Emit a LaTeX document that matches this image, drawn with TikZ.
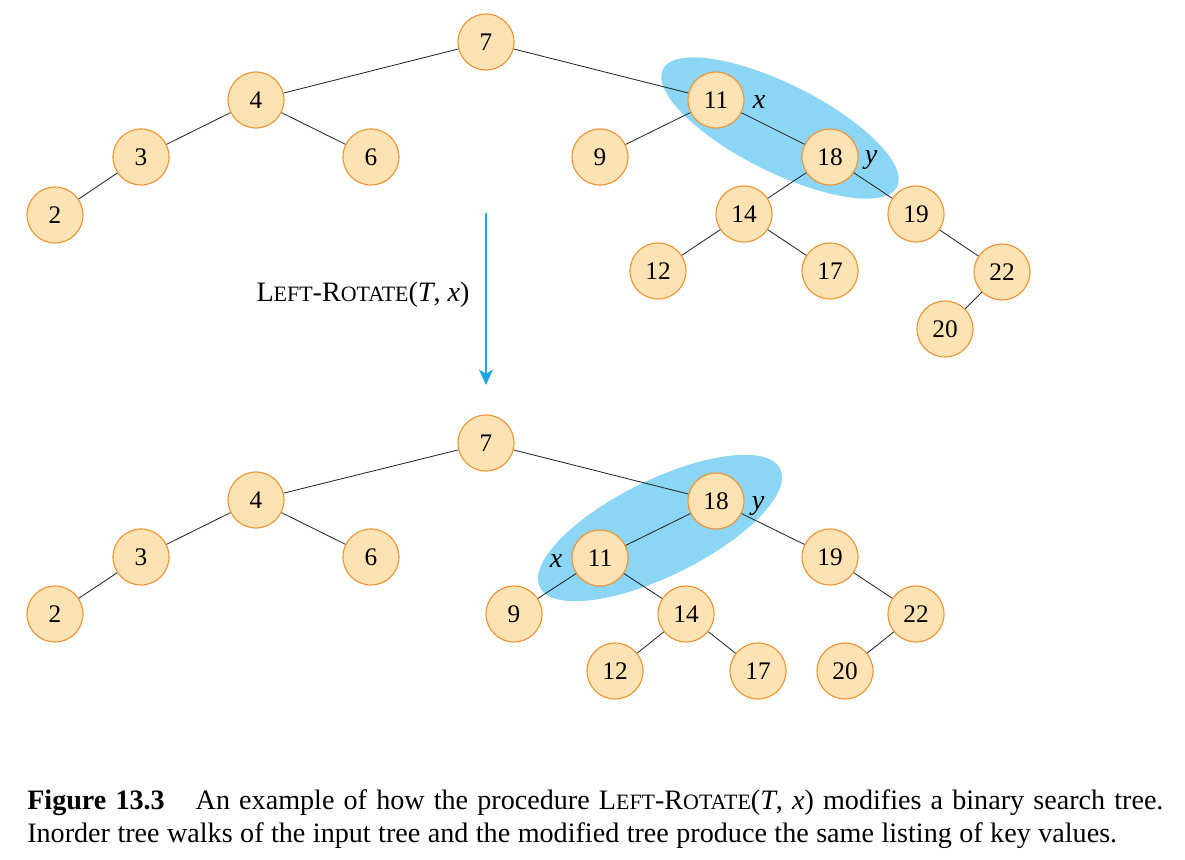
\documentclass[tikz,border=0pt]{standalone}
\usepackage{fontspec}
\setmainfont{Liberation Serif}
\usetikzlibrary{arrows.meta, positioning}
\definecolor{keyfill}{RGB}{253,227,179}
\definecolor{keyline}{RGB}{240,146,52}
\definecolor{rotblue}{RGB}{139,214,245}
\definecolor{arrowblue}{RGB}{28,168,228}
% fake small caps: size, first letter, rest
\newcommand{\fakesc}[3]{#2{\fontsize{#1}{#1}\selectfont #3}}

\begin{document}
\begin{tikzpicture}[x=0.025cm, y=-0.025cm,
  key/.style={circle, draw=keyline, fill=keyfill, line width=0.8pt, minimum size=1.4cm, inner sep=0pt, font=\fontsize{18}{20}\selectfont},
  tag/.style={inner sep=0pt, font=\fontsize{20}{22}\selectfont\itshape},
  caption/.style={anchor=base west, inner sep=0pt, font=\fontsize{20}{22}\selectfont},
  link/.style={black!85, line width=0.6pt}]
\useasboundingbox (0,0) rectangle (1185,860);
% The rotated pairs
\fill[rotblue, rotate around={-26.6:(780,128)}] (780,128) ellipse [x radius=131, y radius=44];
\fill[rotblue, rotate around={26.2:(660,528)}] (660,528) ellipse [x radius=134, y radius=48];
% The input tree
\node[key] (a7) at (486,42) {7};
\node[key] (a4) at (256,100) {4};
\node[key] (a3) at (141,157) {3};
\node[key] (a2) at (55,215) {2};
\node[key] (a6) at (371,157) {6};
\node[key] (a11) at (716,100) {11};
\node[key] (a9) at (600,157) {9};
\node[key] (a18) at (830,157) {18};
\node[key] (a14) at (744,214) {14};
\node[key] (a12) at (658,271) {12};
\node[key] (a17) at (830,271) {17};
\node[key] (a19) at (916,214) {19};
\node[key] (a22) at (1002,272) {22};
\node[key] (a20) at (945,329) {20};
\node[tag] (ax) at (759,102) {x};
\node[tag] (ay) at (871,160) {y};
\draw[link] (a7) -- (a4) (a7) -- (a11) (a4) -- (a3) (a4) -- (a6) (a3) -- (a2)
  (a11) -- (a9) (a11) -- (a18) (a18) -- (a14) (a18) -- (a19)
  (a14) -- (a12) (a14) -- (a17) (a19) -- (a22) (a22) -- (a20);
% The rotation
\coordinate (rotfrom) at (486,213);
\coordinate (rotto) at (486,385);
\draw[arrowblue, line width=1pt, -{Stealth[length=11pt, width=10pt, inset=3pt]}] (rotfrom) -- (rotto);
\node[anchor=base, inner sep=0pt, font=\fontsize{20}{22}\selectfont] (rotname) at (363,302)
  {\fakesc{15.6}{L}{EFT}-\fakesc{15.6}{R}{OTATE}(\textit{T}, \textit{x})};
% The modified tree
\node[key] (b7) at (486,443) {7};
\node[key] (b4) at (256,500) {4};
\node[key] (b3) at (141,557) {3};
\node[key] (b2) at (55,614) {2};
\node[key] (b6) at (371,557) {6};
\node[key] (b18) at (716,501) {18};
\node[key] (b11) at (600,558) {11};
\node[key] (b9) at (514,614) {9};
\node[key] (b14) at (686,614) {14};
\node[key] (b12) at (615,671) {12};
\node[key] (b17) at (758,671) {17};
\node[key] (b19) at (830,557) {19};
\node[key] (b22) at (916,614) {22};
\node[key] (b20) at (845,671) {20};
\node[tag] (by) at (758,506) {y};
\node[tag] (bx) at (556,561) {x};
\draw[link] (b7) -- (b4) (b7) -- (b18) (b4) -- (b3) (b4) -- (b6) (b3) -- (b2)
  (b18) -- (b11) (b18) -- (b19) (b11) -- (b9) (b11) -- (b14)
  (b14) -- (b12) (b14) -- (b17) (b19) -- (b22) (b22) -- (b20);
% The caption
\node[caption] (cap1) at (27,809)
  {\hbox to 808pt{\textbf{Figure 13.3}\hspace{22pt}An example of how the procedure \fakesc{15.6}{L}{EFT}-\fakesc{15.6}{R}{OTATE}(\textit{T}, \textit{x}) modifies a binary search tree.}};
\node[caption] (cap2) at (27,842)
  {\hbox to 775pt{Inorder tree walks of the input tree and the modified tree produce the same listing of key values.}};
\end{tikzpicture}
\end{document}
